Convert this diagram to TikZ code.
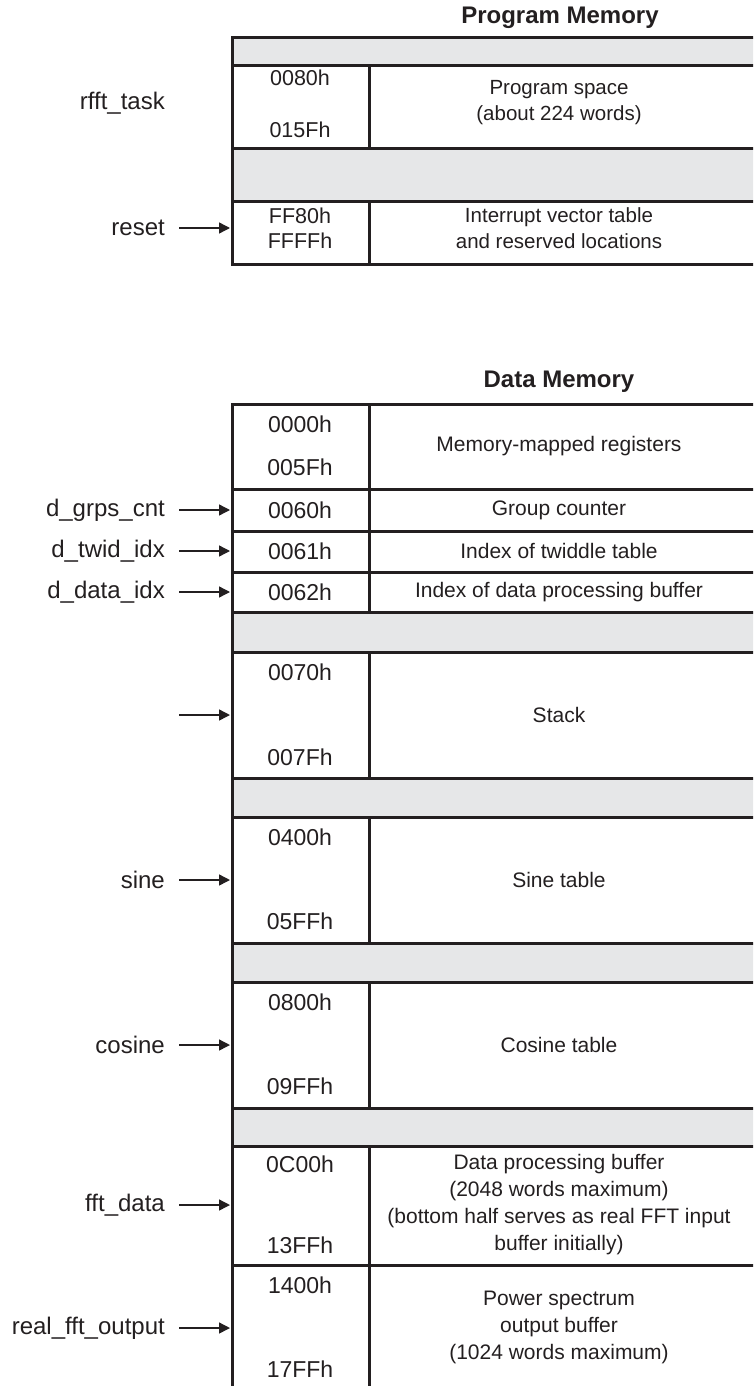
\documentclass[tikz,border=0pt]{standalone}
\usepackage{fontspec}
\setmainfont{Liberation Sans}
\usetikzlibrary{arrows.meta}
\definecolor{ink}{RGB}{35,31,32}
\definecolor{gapgray}{RGB}{230,231,232}

\begin{document}
\begin{tikzpicture}[x=1pt,y=-1pt,
    title/.style={font=\bfseries\fontsize{24}{28}\selectfont, text=ink},
    paddr/.style={font=\fontsize{21.5}{26}\selectfont, text=ink, inner sep=0pt},
    daddr/.style={font=\fontsize{23}{27}\selectfont, text=ink, inner sep=0pt},
    pdesc/.style={font=\fontsize{20.5}{26}\selectfont, text=ink, align=center, inner sep=0pt},
    ddesc/.style={font=\fontsize{21}{27}\selectfont, text=ink, align=center, inner sep=0pt},
    lbl/.style={font=\fontsize{24}{28}\selectfont, text=ink, anchor=east, inner sep=0pt},
    memline/.style={draw=ink, line width=3pt, line cap=rect},
    ptr/.style={draw=ink, line width=1.4pt, -{Triangle[length=11pt,width=11pt]}, shorten <=14pt}]

  \useasboundingbox (0,0) rectangle (753,1386);
  \clip (0,0) rectangle (753,1386);

  % Reserved (unused) areas
  \fill[gapgray] (232,38) rectangle (760,66);
  \fill[gapgray] (232,148) rectangle (760,201);
  \fill[gapgray] (232,612) rectangle (760,652);
  \fill[gapgray] (232,778) rectangle (760,817);
  \fill[gapgray] (232,943) rectangle (760,982);
  \fill[gapgray] (232,1108) rectangle (760,1146);

  % Program memory frame
  \draw[memline] (232,38) -- (760,38) (232,66) -- (760,66) (232,148) -- (760,148)
                 (232,201) -- (760,201) (232,264) -- (760,264);
  \draw[memline] (232,38) -- (232,264);
  \draw[memline] (369,66) -- (369,148) (369,201) -- (369,264);

  % Data memory frame
  \draw[memline] (232,404) -- (760,404) (232,489) -- (760,489) (232,531) -- (760,531)
                 (232,572) -- (760,572) (232,612) -- (760,612) (232,652) -- (760,652)
                 (232,778) -- (760,778) (232,817) -- (760,817) (232,943) -- (760,943)
                 (232,982) -- (760,982) (232,1108) -- (760,1108) (232,1146) -- (760,1146)
                 (232,1265) -- (760,1265);
  \draw[memline] (232,404) -- (232,1400);
  \draw[memline] (369,404) -- (369,612) (369,652) -- (369,778) (369,817) -- (369,943)
                 (369,982) -- (369,1108) (369,1146) -- (369,1400);

  % Program memory contents
  \node[title] (progtitle) at (560,18) {Program Memory};
  \node[paddr] (p0080) at (300,78) {0080h};
  \node[paddr] (p015f) at (300,130) {015Fh};
  \node[pdesc] (progspace) at (559,103) {Program space\\(about 224 words)};
  \node[paddr] (pff80) at (300,216) {FF80h};
  \node[paddr] (pffff) at (300,241) {FFFFh};
  \node[pdesc] (vectors) at (559,228) {Interrupt vector table\\and reserved locations};

  \node[lbl] (rffttask) at (165,103) {rfft\_task};
  \node[lbl] (reset) at (165,228) {reset};
  \coordinate (resetin) at (230,228);
  \draw[ptr] (reset) -- (resetin);

  % Data memory contents
  \node[title] (datatitle) at (559,382) {Data Memory};
  \node[daddr] (d0000) at (300,424) {0000h};
  \node[daddr] (d005f) at (300,467) {005Fh};
  \node[ddesc] (mmregs) at (559,446) {Memory-mapped registers};
  \node[daddr] (d0060) at (300,510) {0060h};
  \node[ddesc] (grpcnt) at (559,510) {Group counter};
  \node[daddr] (d0061) at (300,551) {0061h};
  \node[ddesc] (twidx) at (559,551) {Index of twiddle table};
  \node[daddr] (d0062) at (300,592) {0062h};
  \node[ddesc] (dataidx) at (559,592) {Index of data processing buffer};
  \node[daddr] (d0070) at (300,672) {0070h};
  \node[daddr] (d007f) at (300,757) {007Fh};
  \node[ddesc] (stack) at (559,715) {Stack};
  \node[daddr] (d0400) at (300,837) {0400h};
  \node[daddr] (d05ff) at (300,921) {05FFh};
  \node[ddesc] (sintab) at (559,880) {Sine table};
  \node[daddr] (d0800) at (300,1002) {0800h};
  \node[daddr] (d09ff) at (300,1086) {09FFh};
  \node[ddesc] (costab) at (559,1045) {Cosine table};
  \node[daddr] (d0c00) at (300,1164) {0C00h};
  \node[daddr] (d13ff) at (300,1245) {13FFh};
  \node[ddesc] (databuf) at (559,1205) {Data processing buffer\\(2048 words maximum)\\(bottom half serves as real FFT input\\buffer initially)};
  \node[daddr] (d1400) at (300,1285) {1400h};
  \node[daddr] (d17ff) at (300,1369) {17FFh};
  \node[ddesc] (pwrbuf) at (559,1327) {Power spectrum\\output buffer\\(1024 words maximum)};

  % Pointers into data memory
  \node[lbl] (grpscnt) at (165,510) {d\_grps\_cnt};
  \node[lbl] (twididx) at (165,551) {d\_twid\_idx};
  \node[lbl] (dataidxl) at (165,592) {d\_data\_idx};
  \node[lbl] (sine) at (165,880) {sine};
  \node[lbl] (cosine) at (165,1045) {cosine};
  \node[lbl] (fftdata) at (165,1205) {fft\_data};
  \node[lbl] (fftout) at (165,1328) {real\_fft\_output};
  \coordinate (stackfrom) at (179,715);

  \coordinate (grpsin) at (230,510);
  \coordinate (twidin) at (230,551);
  \coordinate (dataidxin) at (230,592);
  \coordinate (stackin) at (230,715);
  \coordinate (sinein) at (230,880);
  \coordinate (cosinein) at (230,1045);
  \coordinate (fftdatain) at (230,1205);
  \coordinate (fftoutin) at (230,1328);

  \draw[ptr] (grpscnt) -- (grpsin);
  \draw[ptr] (twididx) -- (twidin);
  \draw[ptr] (dataidxl) -- (dataidxin);
  \draw[ptr, shorten <=0pt] (stackfrom) -- (stackin);
  \draw[ptr] (sine) -- (sinein);
  \draw[ptr] (cosine) -- (cosinein);
  \draw[ptr] (fftdata) -- (fftdatain);
  \draw[ptr] (fftout) -- (fftoutin);

\end{tikzpicture}
\end{document}
